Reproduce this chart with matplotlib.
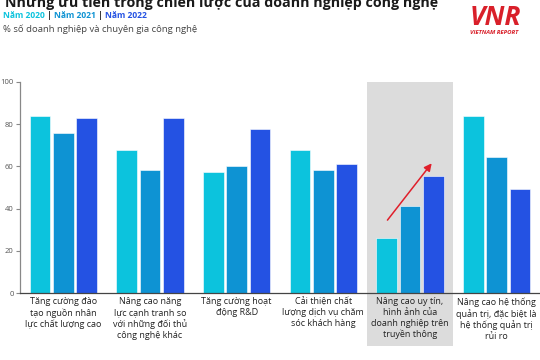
import matplotlib
matplotlib.use("Agg")
import matplotlib.pyplot as plt
from matplotlib.patches import Rectangle
import numpy as np

plt.rcParams['font.family'] = ['Open Sans', 'DejaVu Sans']

# dữ liệu
categories = [
    "Tăng cường đào\ntạo nguồn nhân\nlực chất lượng cao",
    "Nâng cao năng\nlực cạnh tranh so\nvới những đối thủ\ncông nghệ khác",
    "Tăng cường hoạt\nđộng R&D",
    "Cải thiện chất\nlượng dịch vụ chăm\nsóc khách hàng",
    "Nâng cao uy tín,\nhình ảnh của\ndoanh nghiệp trên\ntruyền thông",
    "Nâng cao hệ thống\nquản trị, đặc biệt là\nhệ thống quản trị\nrủi ro",
]
years = ["Năm 2020", "Năm 2021", "Năm 2022"]
v2020 = [84, 68, 57.5, 68, 26, 84]
v2021 = [76, 58.5, 60, 58.5, 41, 64.5]
v2022 = [83, 83, 77.5, 61, 55.5, 49.5]
yticks = [0, 20, 40, 60, 80, 100]

colors = ["#0CC3DD", "#0E93D3", "#2452E3"]
highlight = 4

fig = plt.figure(figsize=(5.4, 3.6), dpi=100)
ax = fig.add_axes([20/540, 1 - 293/360, 1 - 20/540, 211/360])
ax.patch.set_alpha(0)

x = np.arange(len(categories))
w = 0.24
step = 0.27
for k, vals in enumerate([v2020, v2021, v2022]):
    ax.bar(x + (k - 1) * step, vals, width=w, color=colors[k],
           edgecolor="white", linewidth=0.4, zorder=2)

# vùng nền xám cho nhóm được nhấn mạnh
ax.add_patch(Rectangle((highlight - 0.5, -0.25), 1.0, 1.25,
                       transform=ax.get_xaxis_transform(),
                       facecolor="#DCDCDC", edgecolor="none",
                       clip_on=False, zorder=0))

# mũi tên đỏ
ax.annotate("", xy=(highlight + 0.27, 62.5), xytext=(highlight - 0.28, 33.5),
            arrowprops=dict(arrowstyle="-|>", color="#E01F2B", lw=1.1,
                            mutation_scale=11), zorder=3)

ax.set_xlim(-0.5, len(categories) - 0.5)
ax.set_ylim(0, 100)
ax.set_yticks(yticks)
ax.tick_params(axis="y", labelsize=5.5, labelcolor="#555555", length=3,
               color="#888888", width=0.8, pad=1.5)
ax.set_xticks(x)
ax.set_xticklabels(categories, fontsize=6.5, color="#222222", linespacing=1.25)
ax.tick_params(axis="x", length=0, pad=3)
for s in ["top", "right"]:
    ax.spines[s].set_visible(False)
ax.spines["left"].set_color("#888888")
ax.spines["left"].set_linewidth(0.9)
ax.spines["bottom"].set_color("#444444")
ax.spines["bottom"].set_linewidth(0.9)

# tiêu đề (bị cắt ở mép trên như ảnh gốc)
fig.text(5/540, 1 - 7.5/360, "Những ưu tiên trong chiến lược của doanh nghiệp công nghệ",
         fontsize=10.3, fontweight="bold", color="#1a1a1a", va="baseline")

# dòng chú thích năm với màu riêng
fig.canvas.draw()
r = fig.canvas.get_renderer()
xpos = 3 / 540
ypos = 1 - 17.5 / 360
parts = []
for i, yr in enumerate(years):
    parts.append((yr, colors[i]))
    if i < len(years) - 1:
        parts.append((" | ", "#222222"))
for txt, c in parts:
    t = fig.text(xpos, ypos, txt, fontsize=6.1, fontweight="bold", color=c, va="baseline")
    bb = t.get_window_extent(renderer=r)
    xpos += bb.width / fig.bbox.width

fig.text(3/540, 1 - 31.5/360, "% số doanh nghiệp và chuyên gia công nghệ",
         fontsize=6.8, color="#444444", va="baseline")

# logo
fig.text(495/540, 1 - 25/360, "VNR", fontsize=19, fontweight="bold", style="italic",
         color="#D9202A", ha="center", va="baseline")
fig.text(494/540, 1 - 34/360, "VIETNAM REPORT", fontsize=4.3, fontweight="bold",
         style="italic", color="#D9202A", ha="center", va="baseline")

fig.savefig("out.png", dpi=100)
